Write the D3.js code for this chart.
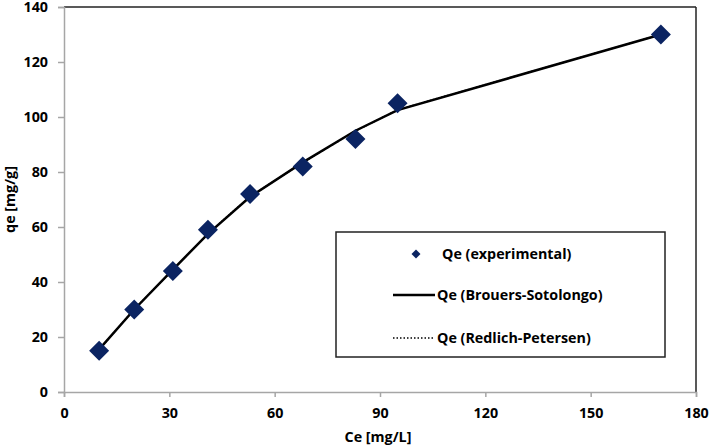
<!DOCTYPE html>
<html><head><meta charset="utf-8">
<script src="https://cdn.jsdelivr.net/npm/d3@7"></script>
<style>body{margin:0;background:#fff}svg{display:block}text{font-family:"Open Sans",sans-serif;font-weight:700;fill:#000}</style>
</head><body><svg id="c" width="709" height="448"></svg>
<script>
const ceValues = [10, 20, 31, 41, 53, 68, 83, 95, 170];
const qeExperimental = [15, 30, 44, 59, 72, 82, 92, 105, 130];
const qeBrouersSotolongo = [15.5, 30, 44.5, 57.5, 71, 83.5, 95, 102.5, 130];
const qeRedlichPetersen = [15.4, 30.1, 44.4, 57.6, 71.1, 83.4, 94.9, 102.6, 130];
const xTicks = [0, 30, 60, 90, 120, 150, 180];
const yTicks = [0, 20, 40, 60, 80, 100, 120, 140];
const legendLabels = ["Qe (experimental)", "Qe (Brouers-Sotolongo)", "Qe (Redlich-Petersen)"];

const FONT = '"Open Sans", sans-serif';
const FS = 14.3;
const svg = d3.select("#c");
const L = 64, R = 696, T = 7, B = 392;
const x = d3.scaleLinear().domain([0, 180]).range([L, R]);
const y = d3.scaleLinear().domain([0, 140]).range([B, T]);

// frame top and right
svg.append("line").attr("x1", L).attr("x2", R).attr("y1", T).attr("y2", T).attr("stroke", "#222").attr("stroke-width", 1.5);
svg.append("line").attr("x1", R).attr("x2", R).attr("y1", T).attr("y2", B).attr("stroke", "#222").attr("stroke-width", 1.5);

const xa = svg.append("g").attr("transform", `translate(0,${B})`)
  .call(d3.axisBottom(x).tickValues(xTicks).tickSize(5).tickPadding(11).tickFormat(d3.format("d")));
const ya = svg.append("g").attr("transform", `translate(${L},0)`)
  .call(d3.axisLeft(y).tickValues(yTicks).tickSize(6).tickPadding(10).tickFormat(d3.format("d")));
[xa, ya].forEach(a => {
  a.selectAll("path,line").attr("stroke", "#a6a6a6").attr("stroke-width", 1.5);
  a.selectAll("text").style("font-family", FONT).style("font-weight", "700").style("font-size", FS + "px").attr("fill", "#000");
});

const pts = ceValues.map((c, i) => ({c, e: qeExperimental[i], b: qeBrouersSotolongo[i], r: qeRedlichPetersen[i]}));
svg.append("path").datum(pts).attr("fill", "none").attr("stroke", "#000").attr("stroke-width", 1.5)
  .attr("stroke-dasharray", "1.5,1.5")
  .attr("d", d3.line().x(d => x(d.c)).y(d => y(d.r)));
svg.append("path").datum(pts).attr("fill", "none").attr("stroke", "#000").attr("stroke-width", 2.5)
  .attr("d", d3.line().x(d => x(d.c)).y(d => y(d.b)));

const diamond = d3.symbol().type(d3.symbolSquare).size(200);
svg.selectAll(".pt").data(pts).join("path").attr("class", "pt")
  .attr("d", diamond)
  .attr("transform", d => `translate(${x(d.c)},${y(d.e)}) rotate(45)`)
  .attr("fill", "#0b2462");

// axis titles
svg.append("text").attr("x", 378).attr("y", 442).attr("text-anchor", "middle").attr("font-size", FS).text("Ce [mg/L]");
svg.append("text").attr("transform", `translate(15,${(T + B) / 2}) rotate(-90)`).attr("text-anchor", "middle").attr("font-size", FS).text("qe [mg/g]");

// legend
const lg = svg.append("g");
lg.append("rect").attr("x", 336).attr("y", 232).attr("width", 329).attr("height", 125).attr("fill", "#fff").attr("stroke", "#222").attr("stroke-width", 1.5);
lg.append("path").attr("d", d3.symbol().type(d3.symbolSquare).size(40)).attr("transform", "translate(416,254) rotate(45)").attr("fill", "#0b2462");
lg.append("line").attr("x1", 393).attr("x2", 435).attr("y1", 295).attr("y2", 295).attr("stroke", "#000").attr("stroke-width", 2.5);
lg.append("line").attr("x1", 393).attr("x2", 435).attr("y1", 338).attr("y2", 338).attr("stroke", "#000").attr("stroke-width", 1.5).attr("stroke-dasharray", "1.5,2");
const ly = [254, 295, 338], lx = [442, 437, 437];
legendLabels.forEach((t, i) => {
  lg.append("text").attr("x", lx[i]).attr("y", ly[i]).attr("dy", "0.35em").attr("font-size", FS).text(t);
});
</script></body></html>
